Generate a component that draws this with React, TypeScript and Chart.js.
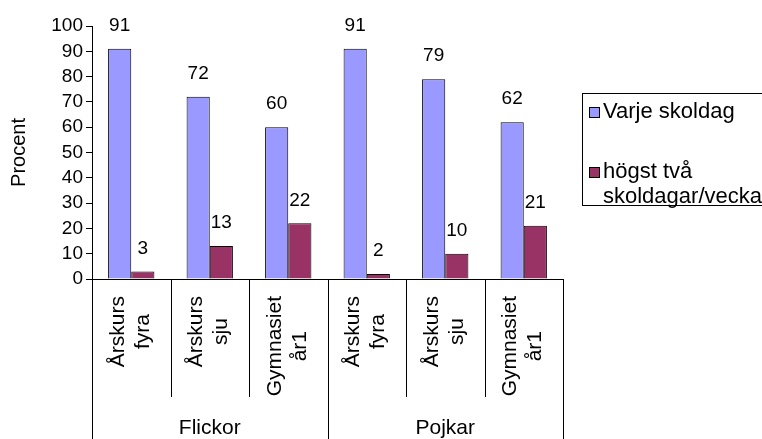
import React, { useEffect, useRef } from "react";
import { Chart, registerables } from "chart.js";

Chart.register(...registerables);

const categories: string[][] = [
  ["Årskurs", "fyra"],
  ["Årskurs", "sju"],
  ["Gymnasiet", "år1"],
  ["Årskurs", "fyra"],
  ["Årskurs", "sju"],
  ["Gymnasiet", "år1"],
];
const groups = ["Flickor", "Pojkar"];
const groupSize = 3;
const seriesNames = ["Varje skoldag", "högst två skoldagar/vecka"];
const varjeSkoldag = [91, 72, 60, 91, 79, 62];
const hogstTva = [3, 13, 22, 2, 10, 21];
const yMin = 0;
const yMax = 100;
const yStep = 10;
const yTitle = "Procent";

const seriesColors = ["#9999FF", "#993366"];
const FONT = '"Liberation Sans", Arial, sans-serif';

const overlayPlugin = {
  id: "overlay",
  afterDatasetsDraw(chart: any) {
    const ctx = chart.ctx;
    ctx.save();
    ctx.fillStyle = "#000";
    ctx.font = `19px ${FONT}`;
    ctx.textAlign = "center";
    ctx.textBaseline = "middle";
    chart.data.datasets.forEach((ds: any, di: number) => {
      const meta = chart.getDatasetMeta(di);
      meta.data.forEach((el: any, i: number) => {
        ctx.fillText(String(ds.data[i]), el.x, el.y - 23);
      });
    });
    ctx.restore();
  },
  afterDraw(chart: any) {
    const ctx = chart.ctx;
    const xs = chart.scales.x;
    const n = categories.length;
    const w = xs.width / n;
    const axisY = chart.chartArea.bottom;
    ctx.save();
    // separators
    ctx.strokeStyle = "#000";
    ctx.lineWidth = 1;
    for (let k = 0; k <= n; k++) {
      const x = Math.round(xs.left + k * w) + 0.5;
      const isGroup = k % groupSize === 0;
      ctx.beginPath();
      ctx.moveTo(x, axisY);
      ctx.lineTo(x, isGroup ? chart.height : 397);
      ctx.stroke();
    }
    // category labels (rotated)
    ctx.fillStyle = "#000";
    ctx.font = `21px ${FONT}`;
    ctx.textAlign = "center";
    ctx.textBaseline = "middle";
    const lineH = 25;
    categories.forEach((lines, i) => {
      const px = xs.getPixelForValue(i);
      const maxW = Math.max(...lines.map((l) => ctx.measureText(l).width));
      const cy = 296 + maxW / 2;
      ctx.save();
      ctx.translate(px - 1, cy);
      ctx.rotate(-Math.PI / 2);
      lines.forEach((l, j) => {
        ctx.fillText(l, 0, (j - (lines.length - 1) / 2) * lineH);
      });
      ctx.restore();
    });
    // group labels
    ctx.textBaseline = "alphabetic";
    groups.forEach((g, gi) => {
      const x0 = xs.left + gi * groupSize * w;
      const x1 = x0 + groupSize * w;
      ctx.fillText(g, (x0 + x1) / 2, 434);
    });
    // legend
    const lx = chart.chartArea.right + 19;
    const ly = 93;
    ctx.strokeStyle = "#000";
    ctx.strokeRect(Math.round(lx) + 0.5, ly + 0.5, 300, 112);
    ctx.font = `22px ${FONT}`;
    ctx.textAlign = "left";
    ctx.textBaseline = "middle";
    const textX = lx + 21;
    const maxTextW = chart.width - textX;
    const itemY = [112, 172];
    chart.data.datasets.forEach((ds: any, di: number) => {
      const words = String(ds.label).split(" ");
      const lines: string[] = [];
      let cur = "";
      words.forEach((wd) => {
        const t = cur ? cur + " " + wd : wd;
        if (ctx.measureText(t).width > maxTextW && cur) {
          lines.push(cur);
          cur = wd;
        } else cur = t;
      });
      if (cur) lines.push(cur);
      const y0 = itemY[di];
      ctx.fillStyle = ds.backgroundColor;
      ctx.fillRect(Math.round(lx) + 7.5, y0 - 5, 10, 10);
      ctx.strokeStyle = "#000";
      ctx.strokeRect(Math.round(lx) + 7.5, y0 - 5 + 0.5, 10, 10);
      ctx.fillStyle = "#000";
      lines.forEach((l, j) => {
        ctx.fillText(l, textX, y0 + j * 25);
      });
    });
    ctx.restore();
  },
};

export default function App() {
  const ref = useRef<HTMLCanvasElement | null>(null);
  useEffect(() => {
    if (!ref.current) return;
    const chart = new Chart(ref.current, {
      type: "bar",
      data: {
        labels: categories.map((c) => c.join(" ")),
        datasets: [
          {
            label: seriesNames[0],
            data: varjeSkoldag,
            backgroundColor: seriesColors[0],
            borderColor: "#000",
            borderWidth: 1,
            barPercentage: 1,
            categoryPercentage: 0.59,
          },
          {
            label: seriesNames[1],
            data: hogstTva,
            backgroundColor: seriesColors[1],
            borderColor: "#000",
            borderWidth: 1,
            barPercentage: 1,
            categoryPercentage: 0.59,
          },
        ],
      },
      options: {
        animation: false,
        responsive: false,
        maintainAspectRatio: false,
        layout: { padding: { top: 26, right: 199, bottom: 0, left: 0 } },
        plugins: {
          legend: { display: false },
          tooltip: { enabled: false },
        },
        scales: {
          x: {
            ticks: { display: false },
            grid: { display: false },
            border: { display: true, color: "#000" },
            afterFit: (s: any) => {
              s.height = 160;
            },
          },
          y: {
            min: yMin,
            max: yMax,
            ticks: {
              stepSize: yStep,
              autoSkip: false,
              maxTicksLimit: 20,
              color: "#000",
              padding: 3,
              font: { family: FONT, size: 19, lineHeight: 1 },
            },
            grid: {
              drawOnChartArea: false,
              drawTicks: true,
              tickLength: 6,
              color: "#000",
            },
            border: { display: true, color: "#000" },
            title: {
              display: true,
              text: yTitle,
              color: "#000",
              font: { family: FONT, size: 20 },
              padding: { top: 7, bottom: 0 },
            },
            afterFit: (s: any) => {
              s.width = 92;
            },
          },
        },
      },
      plugins: [overlayPlugin],
    });
    return () => chart.destroy();
  }, []);
  return (
    <div style={{ position: "fixed", left: 0, top: 0, width: 762, height: 439, background: "#fff" }}>
      <canvas ref={ref} width={762} height={439} style={{ display: "block" }} />
    </div>
  );
}
